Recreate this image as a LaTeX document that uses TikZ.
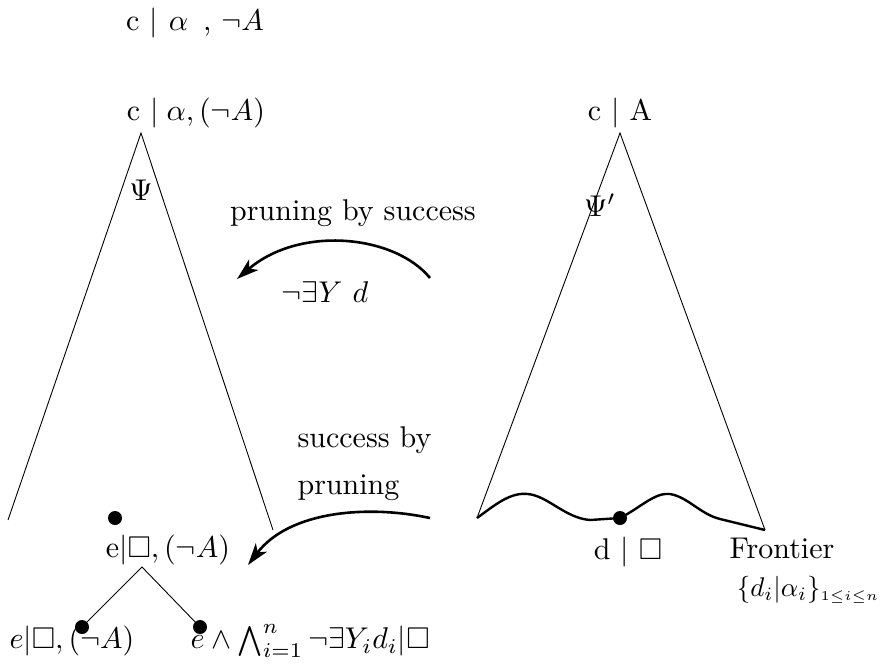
\documentclass[tikz,border=0pt]{standalone}
\usepackage{amssymb}
\usetikzlibrary{arrows.meta}
\begin{document}
\begin{tikzpicture}[x=1pt,y=-1pt,
  lbl/.style={inner sep=0pt,scale=3.0},
  thin line/.style={line width=0.9pt},
  thick arrow/.style={line width=2.6pt,-{Stealth[length=22pt,width=14pt,inset=6pt]}},
  dot/.style={circle,fill=black,inner sep=0pt,minimum size=14pt}]
\useasboundingbox (0,0) rectangle (892,665);
% top labels
\node[lbl] (top) at (195,23) {c\hspace{3.5pt}$|$\hspace{3.5pt}$\alpha$\hspace{5pt}, $\neg A$};
\node[lbl] (cl) at (196,113) {c\hspace{3.5pt}$|$\hspace{2.5pt}$\alpha, (\neg A)$};
\node[lbl] (cr) at (620,113) {c $|$ A};
% left triangle
\coordinate (la) at (141,133);
\coordinate (ll) at (8,520);
\coordinate (lr) at (273,530);
\draw[thin line] (ll) -- (la) -- (lr);
\node[lbl] (psi) at (141,190) {$\Psi$};
% right triangle
\coordinate (ra) at (620,133);
\coordinate (rl) at (477,518);
\coordinate (rr) at (765,530);
\draw[thin line] (rl) -- (ra) -- (rr);
\node[lbl] (psip) at (600,205) {$\Psi'$};
% frontier
\node[dot] (dd) at (620,518) {};
\draw[line width=2.4pt] (rl) .. controls (495,505) and (510,492) .. (528,494)
  .. controls (548,496) and (565,518) .. (590,520) -- (dd.center)
  .. controls (640,508) and (655,492) .. (670,494)
  .. controls (688,497) and (700,514) .. (720,519) -- (rr);
\node[lbl] (dlab) at (628,552) {d $|$ $\square$};
\node[lbl] (front) at (782,548) {Frontier};
\node[inner sep=0pt,scale=2.7,anchor=east] (fset) at (880,590) {$\{d_i|\alpha_i\}_{\scriptscriptstyle 1\leq i\leq n}$};
% upper arrow
\node[lbl] (pbs) at (353,213) {pruning by success};
\node[lbl] (ney) at (325,292) {$\neg\exists Y\ d$};
\coordinate (a1s) at (430,278);
\coordinate (a1e) at (237,279);
\draw[thick arrow] (a1s) .. controls (395,235) and (300,225) .. (a1e);
% lower arrow
\node[lbl,anchor=west] (sb) at (297,440) {success by};
\node[lbl,anchor=west] (pr) at (297,488) {pruning};
\coordinate (a2s) at (430,518);
\coordinate (a2e) at (248,565);
\draw[thick arrow] (a2s) .. controls (370,505) and (290,510) .. (a2e);
% lower tree
\node[dot] (etop) at (115,518) {};
\node[lbl] (e1) at (168,550) {e$|\square, (\neg A)$};
\coordinate (ta) at (142,567);
\node[dot] (bl) at (82,627) {};
\node[dot] (br) at (200,627) {};
\draw[thin line] (bl.center) -- (ta) -- (br.center);
\node[lbl] (e2) at (72,641) {$e|\square, (\neg A)$};
\node[lbl,anchor=west] (e3) at (190,641) {$e\wedge\bigwedge_{i=1}^{n}\neg\exists Y_i d_i|\square$};
\end{tikzpicture}
\end{document}
